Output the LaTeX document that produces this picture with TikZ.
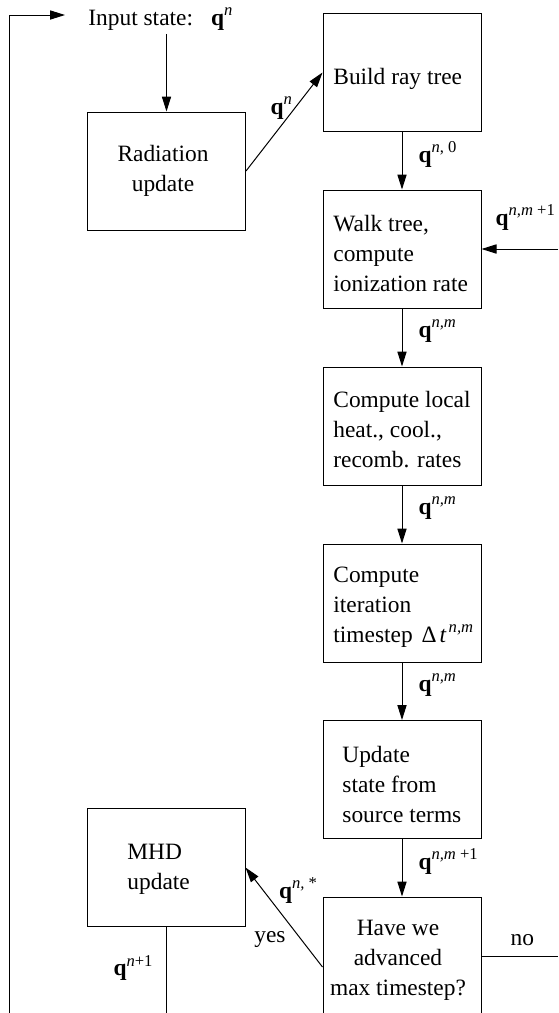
\documentclass[tikz,border=0pt]{standalone}
\usepackage{fontspec}
\setmainfont{Liberation Serif}
\usetikzlibrary{arrows.meta,calc}
\newcommand\qlab[1]{\textbf{q}\raisebox{5pt}{\fontsize{8.3pt}{8.3pt}\selectfont #1}}
\begin{document}
\begin{tikzpicture}[x=0.5pt,y=-0.5pt,
  font=\fontsize{11.7pt}{15pt}\selectfont,
  box/.style={draw, line width=0.5pt, minimum width=79pt, minimum height=59pt, inner sep=0pt},
  txt/.style={align=left, inner sep=0pt},
  ctxt/.style={align=center, inner sep=0pt},
  lbl/.style={inner sep=0pt},
  arr/.style={-{Triangle[length=7.5pt,width=4.6pt]}, line width=0.5pt},
  ln/.style={line width=0.5pt},
  vlbl/.style={lbl, anchor=west, pos=0.5, xshift=8pt, yshift=3pt}]
\useasboundingbox (0,0) rectangle (558,1013);

% boxes
\node[box] (build) at (402,72.5) {};
\node[box] (walk)  at (402,249) {};
\node[box] (local) at (402,426) {};
\node[box] (iter)  at (402,603) {};
\node[box] (upd)   at (402,779.5) {};
\node[box] (have)  at (402,956) {};
\node[box] (rad)   at (166.5,171) {};
\node[box] (mhd)   at (166,867.5) {};

% box texts
\node[txt, anchor=west] (tbuild) at (333,79) {Build ray tree};
\node[txt, anchor=west] (twalk) at (333,253) {Walk tree,\\compute\\ionization rate};
\node[txt, anchor=west] (tlocal) at (333,430) {Compute local\\heat., cool.,\\recomb. rates};
\node[txt, anchor=west] (titer) at (333,607) {Compute\\iteration\\timestep\hspace{4.5pt}Δ\hspace{1.5pt}\textit{t}\hspace{1pt}\raisebox{5pt}{\fontsize{8.3pt}{8.3pt}\selectfont\textit{n,m}}};
\node[txt, anchor=west] (tupd) at (342,784) {Update\\state from\\source terms};
\node[ctxt] (thave) at (398,960) {Have we\\advanced\\max timestep?};
\node[ctxt] (trad) at (163,171) {Radiation\\update};
\node[txt, anchor=west] (tmhd) at (127,869) {MHD\\update};

% input
\node[lbl, anchor=west, inner sep=1.5pt] (input) at (85,19) {Input state:\hspace{9pt}\qlab{\textit{n}}};

% free ends
\coordinate (loopb) at (9,1013);
\coordinate (mhdb) at (166,1013);
\coordinate (noend) at (558,956);
\coordinate (walkin) at (558,249);

% connectors
\draw[arr, shorten >=10pt] (loopb) |- ([yshift=2pt]input.west);
\draw[arr] (input.south -| rad.north) -- (rad.north);
\draw[arr] (rad.east) -- node[lbl, pos=0.5, xshift=-1.5pt, yshift=7pt] {\qlab{\textit{n}}} (build.west);
\draw[arr] (build) -- node[vlbl] {\qlab{\textit{n}, 0}} (walk);
\draw[arr] (walkin) -- node[lbl, pos=0.5, xshift=2.75pt, yshift=15.5pt] {\qlab{\textit{n,m} +1}} (walk.east);
\draw[arr] (walk) -- node[vlbl] {\qlab{\textit{n,m}}} (local);
\draw[arr] (local) -- node[vlbl] {\qlab{\textit{n,m}}} (iter);
\draw[arr] (iter) -- node[vlbl] {\qlab{\textit{n,m}}} (upd);
\draw[arr] (upd) -- node[vlbl] {\qlab{\textit{n,m} +1}} (have);
\draw[arr] ([yshift=-5.5pt]have.west) -- node[lbl, pos=0.5, xshift=7pt, yshift=13.25pt] {\qlab{\textit{n,} *}}
   node[lbl, pos=0.5, xshift=-7pt, yshift=-11.25pt] {yes} (mhd.east);
\draw[ln] (have.east) -- node[lbl, pos=0.5, xshift=1.25pt, yshift=8pt] {no} (noend);
\draw[ln] (mhd.south) -- node[lbl, anchor=east, pos=0.5, xshift=-6.5pt, yshift=1pt] {\qlab{\textit{n}+1}} (mhdb);
\end{tikzpicture}
\end{document}
